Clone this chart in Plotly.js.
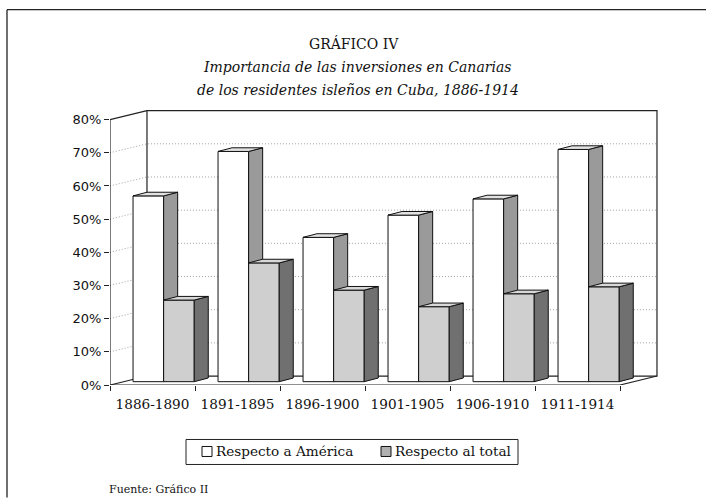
<!DOCTYPE html>
<html>
<head>
<meta charset="utf-8">
<script src="https://cdn.plot.ly/plotly-3.0.1.min.js"></script>
<style>html,body{margin:0;padding:0;background:#fff;}#chart{width:706px;height:498px;}</style>
</head>
<body>
<div id="chart"></div>
<script>
// ---- data ----
const categories = ['1886-1890', '1891-1895', '1896-1900', '1901-1905', '1906-1910', '1911-1914'];
const respectoAmerica = [56, 69.4, 43.5, 50.2, 55.1, 70];
const respectoTotal = [24.6, 35.8, 27.6, 22.6, 26.5, 28.6];
const seriesNames = ['Respecto a América', 'Respecto al total'];
const yTickVals = [0, 10, 20, 30, 40, 50, 60, 70, 80];
const yTickText = ['0%', '10%', '20%', '30%', '40%', '50%', '60%', '70%', '80%'];
const titleText = 'GRÁFICO IV';
const subtitle1 = 'Importancia de las inversiones en Canarias';
const subtitle2 = 'de los residentes isleños en Cuba, 1886-1914';
const sourceText = 'Fuente: Gráfico II';

// ---- 3D geometry (style, not data) ----
const W = 706, H = 498;
const M = {l: 110, r: 35, t: 103.4, b: 112.5};
const XR = [0, 6.6], YR = [0, 85];
const WALL_DX = 0.435, WALL_DY = 2.7;   // full depth offset of back wall
const YMAX = 80;
const BAR_BASE = 1.0;                    // front face base height (depth shift)
const BAR_OFF = 0.271, BAR_W = 0.36;     // offset within category, width
const SIDE_DX = 0.165, SIDE_DY = 1.1;    // bar depth offset
const serif = 'DejaVu Serif, Liberation Serif, serif';
const sans = 'DejaVu Sans, Verdana, sans-serif';

const nCat = categories.length;
const traces = [];

// gridlines (left wall diagonal + back wall horizontal)
const gx = [], gy = [];
yTickVals.forEach(v => {
  if (v === 0 || v === YMAX) return;
  gx.push(0, WALL_DX, nCat + WALL_DX, null);
  gy.push(v, v + WALL_DY, v + WALL_DY, null);
});
traces.push({type: 'scatter', mode: 'lines', x: gx, y: gy, hoverinfo: 'skip', showlegend: false,
  line: {color: '#8a8a8a', width: 0.8, dash: '1px,2px'}});

// frame: axis, floor, walls
const fx = [
  0, 0, null,
  0, nCat, nCat + WALL_DX, null,
  0, WALL_DX, nCat + WALL_DX, nCat + WALL_DX, WALL_DX, WALL_DX, null,
  0, WALL_DX, null
];
const fy = [
  0, YMAX, null,
  0, 0, WALL_DY, null,
  0, WALL_DY, WALL_DY, YMAX + WALL_DY, YMAX + WALL_DY, WALL_DY, null,
  YMAX, YMAX + WALL_DY, null
];
traces.push({type: 'scatter', mode: 'lines', x: fx, y: fy, hoverinfo: 'skip', showlegend: false,
  line: {color: '#222', width: 1.2}});

// bars
const faceColors = [
  {front: '#ffffff', side: '#9a9a9a', top: '#e2e2e2'},
  {front: '#cfcfcf', side: '#707070', top: '#d8d8d8'}
];
const series = [respectoAmerica, respectoTotal];
function poly(xs, ys, color) {
  traces.push({type: 'scatter', mode: 'lines', x: xs.concat([xs[0]]), y: ys.concat([ys[0]]),
    fill: 'toself', fillcolor: color, hoverinfo: 'skip', showlegend: false,
    line: {color: '#111', width: 1}});
}
for (let c = 0; c < nCat; c++) {
  for (let s = 0; s < series.length; s++) {
    const v = series[s][c];
    const x0 = c + BAR_OFF + s * BAR_W, x1 = x0 + BAR_W;
    const y0 = BAR_BASE, y1 = BAR_BASE + v;
    const col = faceColors[s];
    poly([x0, x1, x1, x0], [y0, y0, y1, y1], col.front);
    poly([x1, x1 + SIDE_DX, x1 + SIDE_DX, x1], [y0, y0 + SIDE_DY, y1 + SIDE_DY, y1], col.side);
    poly([x0, x1, x1 + SIDE_DX, x0 + SIDE_DX], [y1, y1, y1 + SIDE_DY, y1 + SIDE_DY], col.top);
  }
}

// pixel -> paper helpers for layout decorations
const PW = W - M.l - M.r, PH = H - M.t - M.b;
const px = x => (x - M.l) / PW;
const py = y => (H - M.b - y) / PH;

const annotations = [
  {text: titleText, x: px(354), y: py(44), font: {family: serif, size: 14, color: '#111'}},
  {text: '<i>' + subtitle1 + '</i>', x: px(357), y: py(67), font: {family: serif, size: 14, color: '#111'}},
  {text: '<i>' + subtitle2 + '</i>', x: px(358), y: py(90), font: {family: serif, size: 14, color: '#111'}},
  {text: seriesNames[0], x: px(214), y: py(452), xanchor: 'left', font: {family: serif, size: 13.6, color: '#111'}},
  {text: seriesNames[1], x: px(393), y: py(452), xanchor: 'left', font: {family: serif, size: 13.6, color: '#111'}},
  {text: sourceText, x: px(107), y: py(490), xanchor: 'left', font: {family: serif, size: 11, color: '#111'}}
].map(a => Object.assign({xref: 'paper', yref: 'paper', showarrow: false, xanchor: 'center', yanchor: 'middle'}, a));

const shapes = [
  // page frame
  {type: 'line', xref: 'paper', yref: 'paper', x0: px(7), y0: py(10), x1: px(706), y1: py(10), line: {color: '#222', width: 1.3}},
  {type: 'line', xref: 'paper', yref: 'paper', x0: px(7), y0: py(10), x1: px(7), y1: py(498), line: {color: '#222', width: 1.3}},
  // legend box and keys
  {type: 'rect', xref: 'paper', yref: 'paper', x0: px(186), y0: py(440), x1: px(518), y1: py(465), line: {color: '#222', width: 1}, fillcolor: 'rgba(0,0,0,0)'},
  {type: 'rect', xref: 'paper', yref: 'paper', x0: px(202), y0: py(447), x1: px(212), y1: py(457), line: {color: '#111', width: 1}, fillcolor: faceColors[0].front},
  {type: 'rect', xref: 'paper', yref: 'paper', x0: px(381), y0: py(447), x1: px(391), y1: py(457), line: {color: '#111', width: 1}, fillcolor: '#b0b0b0'}
];

const layout = {
  width: W, height: H,
  margin: M,
  paper_bgcolor: '#fff', plot_bgcolor: 'rgba(0,0,0,0)',
  showlegend: false,
  xaxis: {range: XR, showgrid: false, zeroline: false, showline: false,
    tickvals: categories.map((_, i) => i + 0.5), ticktext: categories,
    ticks: '', ticklen: 0, ticklabelstandoff: 9,
    tickfont: {family: serif, size: 13.6, color: '#111'},
    minor: {tickvals: categories.map((_, i) => i).concat([nCat]), ticks: 'outside', ticklen: 5, tickcolor: '#222', tickwidth: 1, showgrid: false},
    fixedrange: true},
  yaxis: {range: YR, showgrid: false, zeroline: false, showline: false,
    tickvals: yTickVals, ticktext: yTickText,
    ticks: 'outside', ticklen: 5, tickcolor: '#222', tickwidth: 1,
    tickfont: {family: sans, size: 13, color: '#111'},
    fixedrange: true},
  annotations: annotations,
  shapes: shapes
};

Plotly.newPlot('chart', traces, layout, {displayModeBar: false, staticPlot: true});
</script>
</body>
</html>
